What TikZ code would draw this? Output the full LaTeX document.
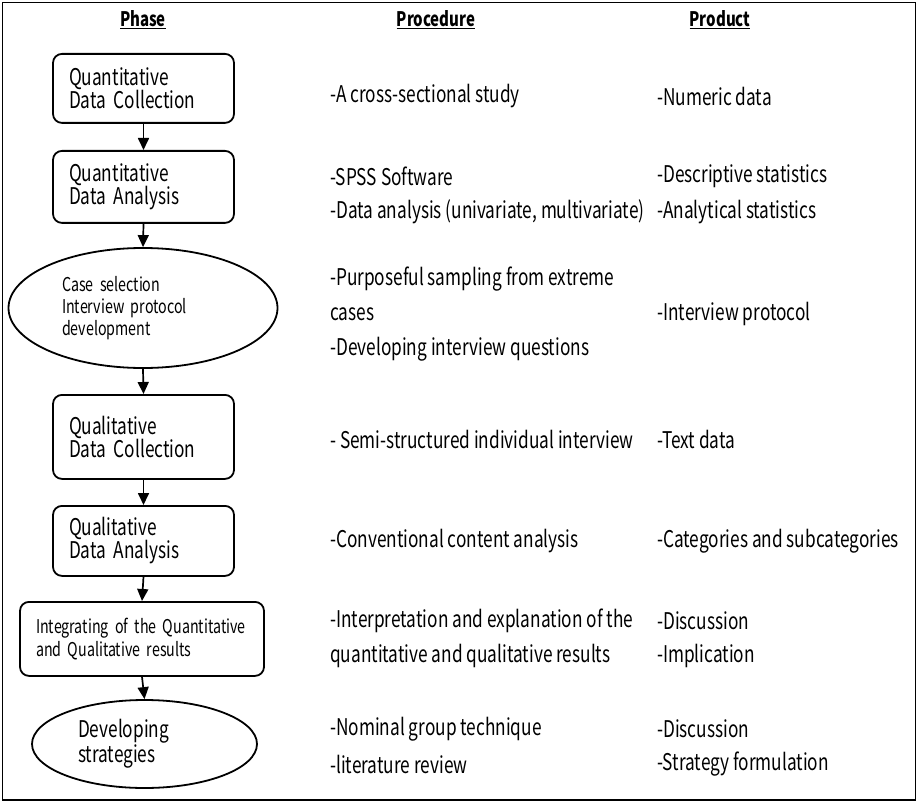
\documentclass[tikz,border=0pt]{standalone}
\usepackage{fontspec}
\setmainfont[FakeStretch=0.75]{Noto Sans CJK SC}
\usetikzlibrary{arrows.meta,shapes.geometric}
\begin{document}
\begin{tikzpicture}[x=1pt,y=-1pt,
  phasebox/.style={draw,line width=1.8pt,rounded corners=9pt,minimum width=181pt,align=left,inner xsep=0pt,anchor=north},
  phaseell/.style={draw,line width=1.8pt,ellipse,align=left,inner sep=0pt},
  flow/.style={line width=1.7pt,-{Triangle[width=11pt,length=12pt]}},
  hdr/.style={font=\fontsize{20}{22}\selectfont\bfseries},
  big/.style={font=\fontsize{23}{23}\selectfont},
  coltext/.style={anchor=west,font=\fontsize{23}{23}\selectfont,inner sep=0pt}]
\useasboundingbox (0,0) rectangle (918,805);
\draw[line width=1.6pt] (2.5,2.5) rectangle (915.5,800);
% headers
\node[hdr] (hphase) at (143,20) {\underline{Phase}};
\node[hdr] (hproc) at (436,20) {\underline{Procedure}};
\node[hdr] (hprod) at (720,20) {\underline{Product}};
% phases
\node[phasebox,big,minimum height=69pt,text width=149pt] (p1) at (143.5,53) {Quantitative\\Data Collection};
\node[phasebox,big,minimum height=72pt,text width=149pt] (p2) at (143.5,150) {Quantitative\\Data Analysis};
\node[phaseell,minimum width=269pt,minimum height=120pt,text width=162pt,font=\fontsize{19}{22}\selectfont] (p3) at (143,308) {Case selection\\Interview protocol\\development};
\node[phasebox,big,minimum height=84pt,text width=149pt] (p4) at (143.5,394) {Qualitative\\Data Collection};
\node[phasebox,big,minimum height=70pt,text width=149pt] (p5) at (143.5,505) {Qualitative\\Data Analysis};
\node[phasebox,minimum width=244pt,minimum height=74pt,text width=212pt,font=\fontsize{19}{23}\selectfont] (p6) at (142,601) {Integrating of the Quantitative\\and Qualitative results};
\node[phaseell,big,minimum width=225pt,minimum height=88pt,text width=133pt] (p7) at (144.5,744) {Developing\\strategies};
% arrows
\draw[flow] (p1.south) -- (p2.north);
\draw[flow] (p2.south) -- (p3.north);
\draw[flow] (p3.south) -- (p4.north);
\draw[flow] (p4.south) -- (p5.north);
\draw[flow] (p5.south) -- (p6.north);
\draw[flow] (p6.south) -- (p7.north);
% procedure column
\node[coltext] (r1) at (330,96) {-A cross-sectional study};
\node[coltext] (r2) at (330,176) {-SPSS Software};
\node[coltext] (r3) at (330,212) {-Data analysis (univariate, multivariate)};
\node[coltext] (r4) at (330,279) {-Purposeful sampling from extreme};
\node[coltext] (r5) at (330,314) {cases};
\node[coltext] (r6) at (330,349) {-Developing interview questions};
\node[coltext] (r7) at (330,439) {- Semi-structured individual interview};
\node[coltext] (r8) at (330,541) {-Conventional content analysis};
\node[coltext] (r9) at (330,621) {-Interpretation and explanation of the};
\node[coltext] (r10) at (330,656) {quantitative and qualitative results};
\node[coltext] (r11) at (330,729) {-Nominal group technique};
\node[coltext] (r12) at (330,764) {-literature review};
% product column
\node[coltext] (d1) at (657,96) {-Numeric data};
\node[coltext] (d2) at (657,176) {-Descriptive statistics};
\node[coltext] (d3) at (657,212) {-Analytical statistics};
\node[coltext] (d4) at (657,314) {-Interview protocol};
\node[coltext] (d5) at (657,439) {-Text data};
\node[coltext] (d6) at (657,541) {-Categories and subcategories};
\node[coltext] (d7) at (657,621) {-Discussion};
\node[coltext] (d8) at (657,656) {-Implication};
\node[coltext] (d9) at (657,729) {-Discussion};
\node[coltext] (d10) at (657,764) {-Strategy formulation};
\end{tikzpicture}
\end{document}
